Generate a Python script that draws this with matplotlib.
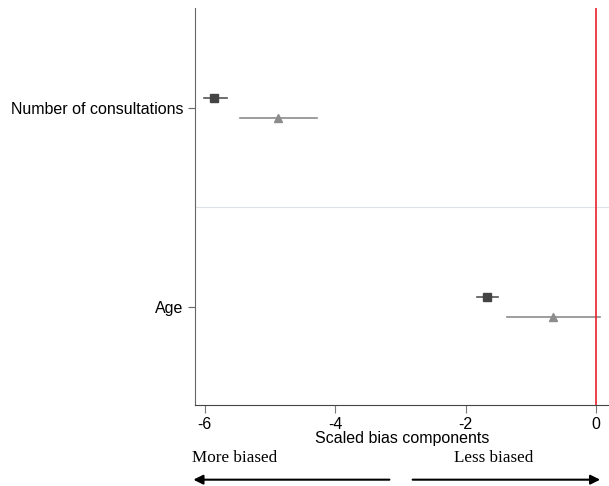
import matplotlib.pyplot as plt
from matplotlib.patches import FancyArrowPatch

plt.rcParams['font.family'] = ['Liberation Sans', 'DejaVu Sans']

# categories (top to bottom) and estimates for the two series
categorias = ['Number of consultations', 'Age']
ypos = [2, 1]
quad_est = [-5.85, -1.67]
quad_lo = [-6.01, -1.83]
quad_hi = [-5.65, -1.50]
tri_est = [-4.88, -0.66]
tri_lo = [-5.46, -1.37]
tri_hi = [-4.28, 0.06]
xticks = [-6, -4, -2, 0]

fig = plt.figure(figsize=(6.09, 4.86), dpi=100)
ax = fig.add_axes([0.320, 0.1667, 0.680, 0.8168])

for i in range(len(categorias)):
    y1 = ypos[i] + 0.05
    y2 = ypos[i] - 0.05
    ax.plot([quad_lo[i], quad_hi[i]], [y1, y1], color='#555555', lw=1.2)
    ax.plot(quad_est[i], y1, marker='s', ms=6, color='#444444', ls='none')
    ax.plot([tri_lo[i], tri_hi[i]], [y2, y2], color='#8c8c8c', lw=1.2)
    ax.plot(tri_est[i], y2, marker='^', ms=6, color='#8c8c8c', ls='none')

ax.axhline(1.503, color='#dde3e8', lw=0.8)
ax.axvline(0, color='#e8212b', lw=1.2)

ax.set_xlim(-6.15, 0.2)
ax.set_ylim(0.508, 2.503)
ax.set_xticks(xticks)
ax.set_xticklabels([str(v) for v in xticks], fontsize=11.5)
ax.set_yticks(ypos)
ax.set_yticklabels(categorias, fontsize=11.5)
ax.spines['top'].set_visible(False)
ax.spines['right'].set_visible(False)
ax.spines['left'].set_color('#666666')
ax.spines['bottom'].set_color('#444444')
ax.tick_params(axis='y', length=5, color='#666666', pad=3)
ax.tick_params(axis='x', length=6, color='#777777', pad=3)
ax.set_xlabel('Scaled bias components', fontsize=11.5, labelpad=-1)

fig.text(0.315, 0.058, 'More biased', family='Liberation Serif', fontsize=12.3, va='center', ha='left')
fig.text(0.746, 0.058, 'Less biased', family='Liberation Serif', fontsize=12.3, va='center', ha='left')
fig.add_artist(FancyArrowPatch((0.644, 0.013), (0.313, 0.013), transform=fig.transFigure,
               arrowstyle='-|>', mutation_scale=14, color='black', lw=1.5))
fig.add_artist(FancyArrowPatch((0.673, 0.013), (0.990, 0.013), transform=fig.transFigure,
               arrowstyle='-|>', mutation_scale=14, color='black', lw=1.5))

fig.savefig('out.png', dpi=100)
